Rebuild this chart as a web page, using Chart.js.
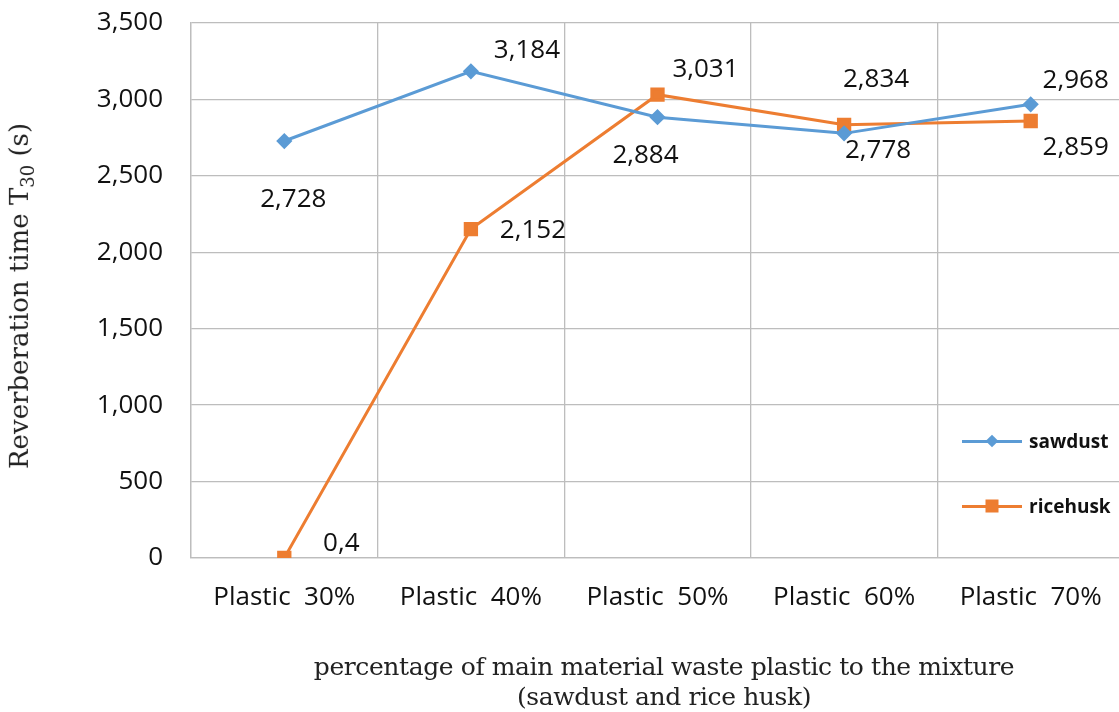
<!DOCTYPE html>
<html>
<head>
<meta charset="utf-8">
<script src="https://cdn.jsdelivr.net/npm/chart.js@4.4.1/dist/chart.umd.min.js"></script>
<style>
  html, body { margin: 0; padding: 0; background: #fff; overflow: hidden; }
  #wrap { position: relative; width: 1135px; height: 712px; }
  .ytitle {
    position: absolute; left: 21px; top: 296px;
    transform: translate(-50%, -50%) rotate(-90deg);
    font-family: "DejaVu Serif", serif; font-size: 26px; color: #222; white-space: nowrap;
  }
  .xtitle {
    position: absolute; left: 664px; top: 652px; transform: translateX(-50%);
    font-family: "DejaVu Serif", serif; font-size: 25px; line-height: 30px; letter-spacing: -0.4px;
    color: #222; text-align: center; white-space: nowrap;
  }
  .legend {
    position: absolute; left: 962px; font-family: "Open Sans", sans-serif;
    font-weight: bold; font-size: 19px; color: #111; display: flex; align-items: center;
  }
  .legend i { position: relative; display: inline-block; width: 60px; height: 3px; margin-right: 7px; }
  .legend i b { position: absolute; left: 50%; top: 50%; transform: translate(-50%, -50%); }
</style>
</head>
<body>
<div id="wrap">
  <canvas id="chart" width="1135" height="712"></canvas>
  <div class="ytitle">Reverberation time T<sub style="font-size:18px">30</sub> (s)</div>
  <div class="xtitle">percentage of main material waste plastic to the mixture<br>(sawdust and rice husk)</div>
  <div class="legend" style="top:428px"><i style="background:#5B9BD5"><b style="width:9px;height:9px;background:#5B9BD5;transform:translate(-50%,-50%) rotate(45deg)"></b></i>sawdust</div>
  <div class="legend" style="top:493px"><i style="background:#ED7D31"><b style="width:13px;height:13px;background:#ED7D31"></b></i>ricehusk</div>
</div>
<script>
const categories = ["Plastic  30%", "Plastic  40%", "Plastic  50%", "Plastic  60%", "Plastic  70%"];
const sawdust = [2728, 3184, 2884, 2778, 2968];
const ricehusk = [0.4, 2152, 3031, 2834, 2859];
const yTicks = [0, 500, 1000, 1500, 2000, 2500, 3000, 3500];

// label offsets from each point, in pixels
const sawdustLabelPos = [[9, 59], [56, -21], [-12, 38], [34, 17], [45, -24]];
const ricehuskLabelPos = [[57, -14], [62, 2], [48, -25], [32, -45], [45, 27]];

function fmt(v) {
  if (v >= 1000) return v.toLocaleString("en-US");
  return String(v).replace(".", ",");
}

const pointLabels = {
  id: "pointLabels",
  afterDatasetsDraw(chart) {
    const ctx = chart.ctx;
    ctx.save();
    ctx.font = "26px 'Open Sans', sans-serif";
    ctx.fillStyle = "#111";
    ctx.textAlign = "center";
    ctx.textBaseline = "middle";
    chart.data.datasets.forEach((ds, i) => {
      const meta = chart.getDatasetMeta(i);
      meta.data.forEach((pt, j) => {
        const off = ds.labelPos[j];
        ctx.fillText(fmt(ds.data[j]), pt.x + off[0], pt.y + off[1]);
      });
    });
    ctx.restore();
  },
};

new Chart(document.getElementById("chart"), {
  type: "line",
  data: {
    labels: categories,
    datasets: [
      {
        label: "sawdust",
        data: sawdust,
        labelPos: sawdustLabelPos,
        borderColor: "#5B9BD5",
        backgroundColor: "#5B9BD5",
        borderWidth: 3,
        pointStyle: "rectRot",
        pointRadius: 6,
        pointHoverRadius: 6,
      },
      {
        label: "ricehusk",
        data: ricehusk,
        labelPos: ricehuskLabelPos,
        borderColor: "#ED7D31",
        backgroundColor: "#ED7D31",
        borderWidth: 3,
        pointStyle: "rect",
        pointRadius: 8,
        pointHoverRadius: 8,
      },
    ],
  },
  options: {
    responsive: false,
    animation: false,
    layout: { padding: { top: 23, left: 0, right: 0, bottom: 0 } },
    plugins: { legend: { display: false }, tooltip: { enabled: false } },
    scales: {
      x: {
        offset: true,
        grid: { offset: true, color: "#BDBDBD", lineWidth: 1.3, drawTicks: false },
        border: { color: "#BDBDBD", width: 1.3 },
        ticks: { color: "#111", padding: 24, font: { family: "'Open Sans', sans-serif", size: 26 } },
        afterFit: (s) => { s.height = 154; s.paddingLeft = 0; s.paddingRight = 0; },
      },
      y: {
        min: 0,
        max: 3500,
        afterBuildTicks: (s) => { s.ticks = yTicks.map((v) => ({ value: v })); },
        grid: { color: "#BDBDBD", lineWidth: 1.3, drawTicks: false },
        border: { color: "#BDBDBD", width: 1.3 },
        ticks: {
          color: "#111",
          padding: 28,
          font: { family: "'Open Sans', sans-serif", size: 26 },
          callback: (v) => v.toLocaleString("en-US"),
        },
        afterFit: (s) => { s.width = 191; s.paddingTop = 0; s.paddingBottom = 0; },
      },
    },
  },
  plugins: [pointLabels],
});
</script>
</body>
</html>
